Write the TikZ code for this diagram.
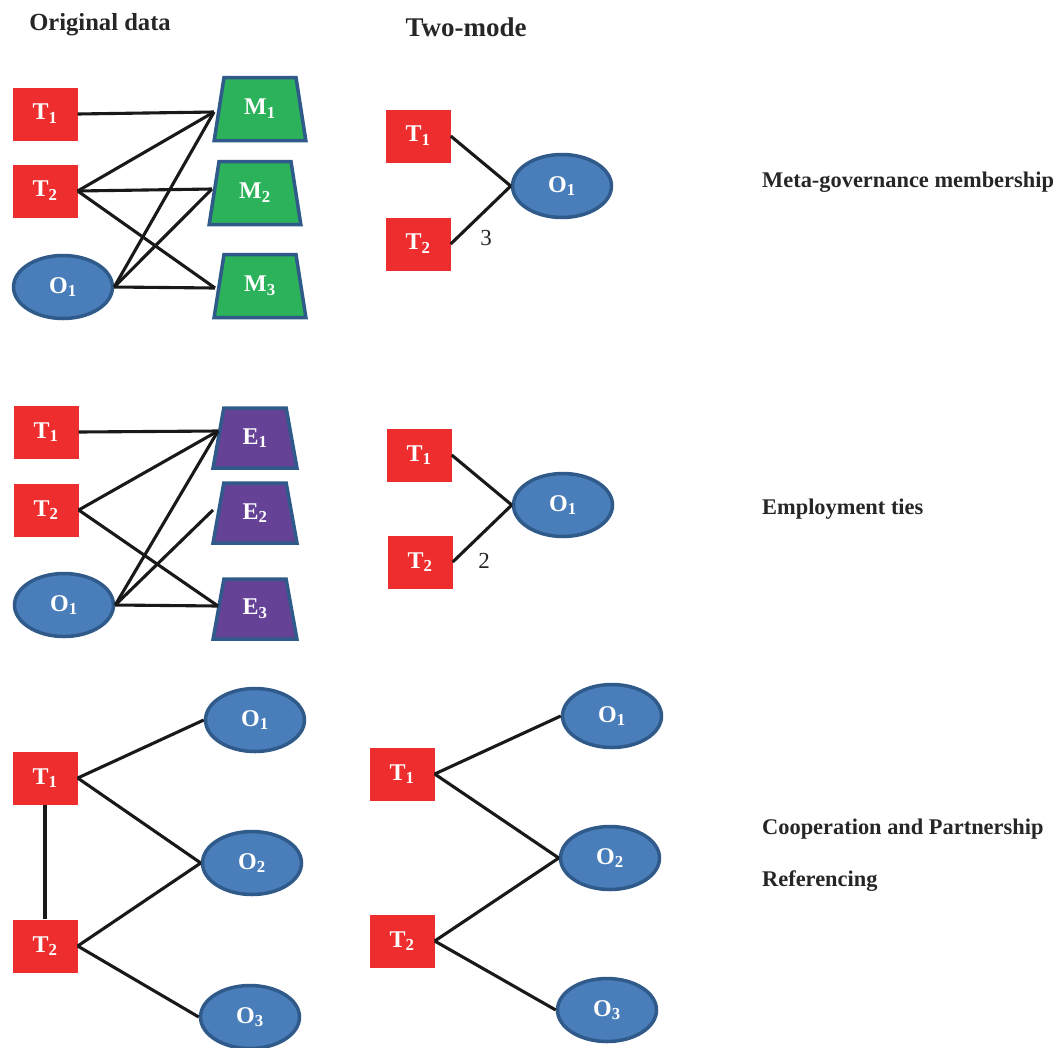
\documentclass[tikz,border=0pt]{standalone}
\usepackage{fontspec}
\setmainfont{Liberation Serif}
\usetikzlibrary{shapes.geometric}
\definecolor{tred}{RGB}{238,46,46}
\definecolor{ofill}{RGB}{74,126,187}
\definecolor{oline}{RGB}{47,90,138}
\definecolor{mgreen}{RGB}{44,178,90}
\definecolor{epurple}{RGB}{102,66,150}
\tikzset{
  tbox/.style={rectangle, fill=tred, minimum width=65pt, minimum height=53pt, inner sep=0pt, text=white, font=\fontsize{24}{26}\selectfont\bfseries},
  obox/.style={ellipse, fill=ofill, draw=oline, line width=3.5pt, minimum width=99pt, minimum height=63pt, inner sep=0pt, text=white, font=\fontsize{24}{26}\selectfont\bfseries},
  trap/.style={trapezium, trapezium stretches=true, trapezium left angle=77.5, trapezium right angle=77.5, draw=oline, line width=3.5pt, inner sep=0pt, text=white, font=\fontsize{24}{26}\selectfont\bfseries},
  mbox/.style={trap, fill=mgreen, minimum width=92pt, minimum height=63pt},
  ebox/.style={trap, fill=epurple, minimum width=84pt, minimum height=60pt},
  link/.style={draw=black!90, line width=3.1pt},
  lab/.style={anchor=west, inner sep=0pt, font=\fontsize{22.4}{25}\selectfont\bfseries, text=black!85},
  wlab/.style={inner sep=0pt, font=\fontsize{23}{25}\selectfont, text=black!85}
}
\newcommand{\sub}[2]{#1\textsubscript{#2}}
\begin{document}
\begin{tikzpicture}[x=1pt,y=-1pt]
\useasboundingbox (0,0) rectangle (1056,1047);
% headings
\node[inner sep=0pt, font=\fontsize{24.6}{27}\selectfont\bfseries, text=black!85] (h1) at (100,25) {Original data};
\node[inner sep=0pt, font=\fontsize{27}{30}\selectfont\bfseries, text=black!85] (h2) at (466,27) {Two-mode};
% right labels
\node[lab] (l1) at (762,182) {Meta-governance membership};
\node[lab] (l2) at (762,509) {Employment ties};
\node[lab] (l3) at (762,829) {Cooperation and Partnership};
\node[lab] (l4) at (762,881) {Referencing};

% ---------- Section 1 left
\node[tbox] (aT1) at (45,114) {\sub{T}{1}};
\node[tbox] (aT2) at (45,191) {\sub{T}{2}};
\node[obox] (aO1) at (63,287) {\sub{O}{1}};
\node[mbox] (aM1) at (260,109) {\sub{M}{1}};
\node[mbox] (aM2) at (255,193) {\sub{M}{2}};
\node[mbox] (aM3) at (260,286) {\sub{M}{3}};
\coordinate (aM1p) at (214,112);
\coordinate (aM2p) at (212,189);
\coordinate (aM3p) at (215,288);
\draw[link] (aT1.east) -- (aM1p);
\draw[link] (aT2.east) -- (aM1p);
\draw[link] (aT2.east) -- (aM2p);
\draw[link] (aT2.east) -- (aM3p);
\draw[link] (aO1.east) -- (aM1p);
\draw[link] (aO1.east) -- (aM2p);
\draw[link] (aO1.east) -- (aM3p);

% ---------- Section 1 right
\node[tbox] (bT1) at (418,136) {\sub{T}{1}};
\node[tbox] (bT2) at (418,244) {\sub{T}{2}};
\node[obox] (bO1) at (562,186) {\sub{O}{1}};
\draw[link] (bT1.east) -- (bO1.west);
\draw[link] (bT2.east) -- (bO1.west);
\node[wlab] (b3) at (486,238) {3};

% ---------- Section 2 left
\node[tbox] (cT1) at (46,432) {\sub{T}{1}};
\node[tbox] (cT2) at (46,510) {\sub{T}{2}};
\node[obox] (cO1) at (64,605) {\sub{O}{1}};
\node[ebox] (cE1) at (255,438) {\sub{E}{1}};
\node[ebox] (cE2) at (255,513) {\sub{E}{2}};
\node[ebox] (cE3) at (255,609) {\sub{E}{3}};
\coordinate (cE1p) at (218,431);
\coordinate (cE2p) at (213,510);
\coordinate (cE3p) at (218,606);
\draw[link] (cT1.east) -- (cE1p);
\draw[link] (cT2.east) -- (cE1p);
\draw[link] (cT2.east) -- (cE3p);
\draw[link] (cO1.east) -- (cE1p);
\draw[link] (cO1.east) -- (cE2p);
\draw[link] (cO1.east) -- (cE3p);

% ---------- Section 2 right
\node[tbox] (dT1) at (419,455) {\sub{T}{1}};
\node[tbox] (dT2) at (420,562) {\sub{T}{2}};
\node[obox] (dO1) at (563,505) {\sub{O}{1}};
\draw[link] (dT1.east) -- (dO1.west);
\draw[link] (dT2.east) -- (dO1.west);
\node[wlab] (d2) at (484,561) {2};

% ---------- Section 3 left
\node[tbox] (eT1) at (45,778) {\sub{T}{1}};
\node[tbox] (eT2) at (45,946) {\sub{T}{2}};
\node[obox] (eO1) at (255,720) {\sub{O}{1}};
\node[obox] (eO2) at (252,863) {\sub{O}{2}};
\node[obox] (eO3) at (250,1017) {\sub{O}{3}};
\draw[link] (eT1.east) -- (eO1.west);
\draw[link] (eT1.east) -- (eO2.west);
\draw[link] (eT2.east) -- (eO2.west);
\draw[link] (eT2.east) -- (eO3.west);
\draw[link] (eT1.south) -- (eT2.north);

% ---------- Section 3 right
\node[tbox] (fT1) at (402,774) {\sub{T}{1}};
\node[tbox] (fT2) at (402,941) {\sub{T}{2}};
\node[obox] (fO1) at (612,716) {\sub{O}{1}};
\node[obox] (fO2) at (610,858) {\sub{O}{2}};
\node[obox] (fO3) at (607,1010) {\sub{O}{3}};
\draw[link] (fT1.east) -- (fO1.west);
\draw[link] (fT1.east) -- (fO2.west);
\draw[link] (fT2.east) -- (fO2.west);
\draw[link] (fT2.east) -- (fO3.west);
\end{tikzpicture}
\end{document}
